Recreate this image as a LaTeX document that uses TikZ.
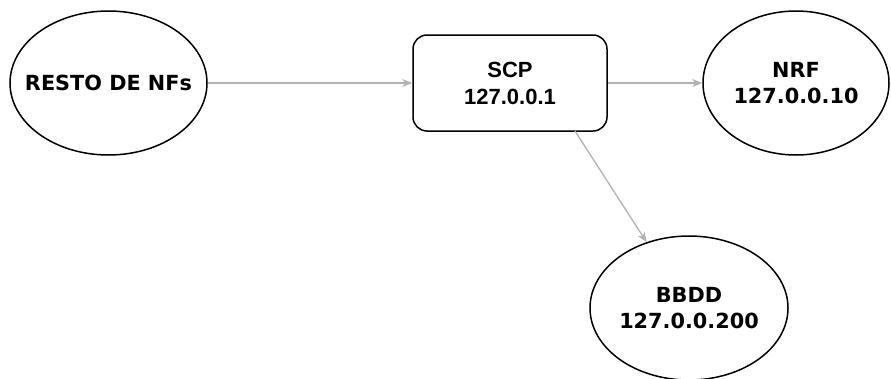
\documentclass[tikz,border=0pt]{standalone}
\usepackage{fontspec}
\setmainfont{DejaVu Sans}
\newfontfamily\scpfont{Liberation Sans Bold}
\usetikzlibrary{shapes.geometric,arrows.meta}
\definecolor{linkgray}{RGB}{178,178,178}
\tikzset{
  nfshape/.style={draw=black, line width=1.5pt, ellipse, inner sep=0pt},
  nflabel/.style={align=center, font=\fontsize{20.8}{26}\selectfont\bfseries},
  scpbox/.style={draw=black, line width=1.5pt, rounded corners=14pt, inner sep=0pt,
    minimum width=194pt, minimum height=96pt, align=center,
    font=\scpfont\fontsize{22}{27}\selectfont},
  link/.style={draw=linkgray, line width=1.3pt,
    -{Stealth[length=10pt, width=8pt, inset=3pt]}}
}
\begin{document}
\begin{tikzpicture}[x=1pt, y=-1pt]
  \useasboundingbox (0,0) rectangle (891,378);
  % network functions
  \node[nfshape, minimum width=197pt, minimum height=144pt] (resto) at (108.5,83) {};
  \node[nflabel] (resto-t) at (resto) {RESTO DE NFs};
  \node[scpbox] (scp) at (510,83) {SCP\\127.0.0.1};
  \node[nfshape, minimum width=186pt, minimum height=144pt] (nrf) at (796,83) {};
  \node[nflabel] (nrf-t) at (nrf) {NRF\\127.0.0.10};
  \node[nfshape, minimum width=198pt, minimum height=144pt] (bbdd) at (689,308) {};
  \node[nflabel] (bbdd-t) at (bbdd) {BBDD\\127.0.0.200};
  % links
  \coordinate (scp-out) at (575,131);
  \draw[link] (resto) -- (scp);
  \draw[link] (scp) -- (nrf);
  \draw[link] (scp-out) -- (bbdd);
\end{tikzpicture}
\end{document}
